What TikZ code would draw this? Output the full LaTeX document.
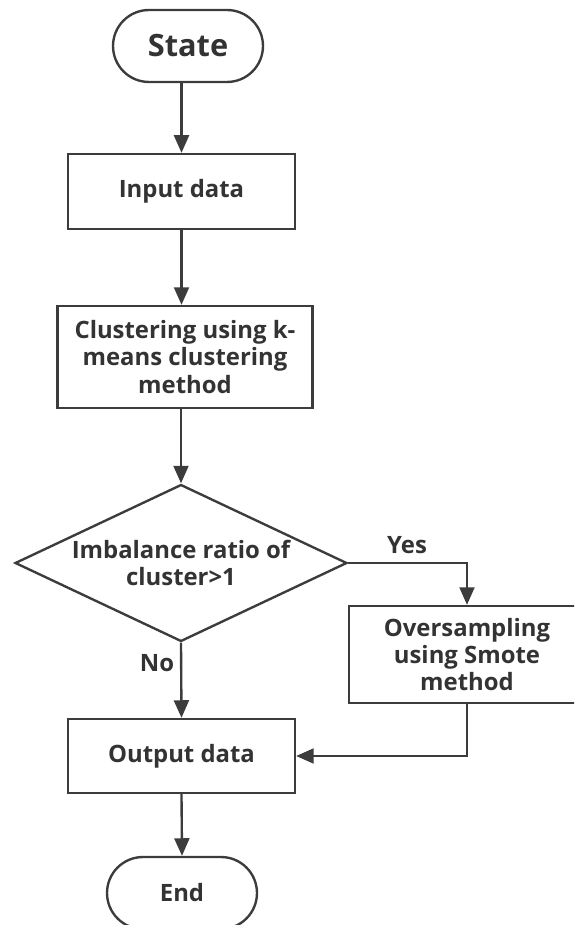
\documentclass[tikz,border=0pt]{standalone}
\usepackage{fontspec}
\setmainfont{Open Sans}
\usetikzlibrary{arrows.meta,positioning,shapes.geometric}

\definecolor{linegray}{RGB}{60,60,60}
\definecolor{textgray}{RGB}{51,51,51}

\tikzset{
  box/.style={draw=linegray, line width=1.35pt, rectangle, align=center,
    font=\fontsize{13.6}{15.5}\selectfont\bfseries, text=textgray, inner sep=0pt},
  term/.style={box, rounded corners=0.72cm, minimum width=3cm, minimum height=1.44cm},
  decision/.style={box, diamond, aspect=2.1},
  flow/.style={draw=linegray, line width=1.35pt, -{Triangle[width=8.5pt,length=10pt]}},
  lbl/.style={font=\fontsize{13.6}{15.5}\selectfont\bfseries, text=textgray, inner sep=0pt}
}

\begin{document}
\begin{tikzpicture}[x=0.02cm, y=-0.02cm]

      \clip (0,0) rectangle (574,925);

      \node[term, font=\fontsize{17.5}{20}\selectfont\bfseries] at (188,46) (state) {State};
      \node[box, minimum width=4.54cm, minimum height=1.5cm] at (181.5,191.5) (input) {Input data};
      \node[box, minimum width=5.1cm, minimum height=2.04cm] at (185,357) (cluster) {Clustering using k-\\means clustering\\method};
      \node[decision, minimum width=6.64cm, minimum height=3.14cm] at (181,563) (imb) {Imbalance ratio of\\cluster>1};
      \node[box, minimum width=4.72cm, minimum height=1.94cm] at (467,654.5) (smote) {Oversampling\\using Smote\\method};
      \node[box, minimum width=4.54cm, minimum height=1.48cm] at (181.5,756) (output) {Output data};
      \node[term] at (182,893) (finish) {End};

      \node[lbl] at (407,545) (yes) {Yes};
      \node[lbl] at (157,663) (no) {No};

      \draw[flow] (state.south -| input.north) -- (input.north);
      \draw[flow] (input.south) -- (input.south |- cluster.north);
      \draw[flow] (cluster.south -| imb.north) -- (imb.north);
      \draw[flow] (imb.east) -| (smote.north);
      \draw[flow] (imb.south) -- (output.north);
      \draw[flow] (smote.south) |- (output.east);
      \draw[flow] (output.south) -- (finish.north);

    \end{tikzpicture}
\end{document}
